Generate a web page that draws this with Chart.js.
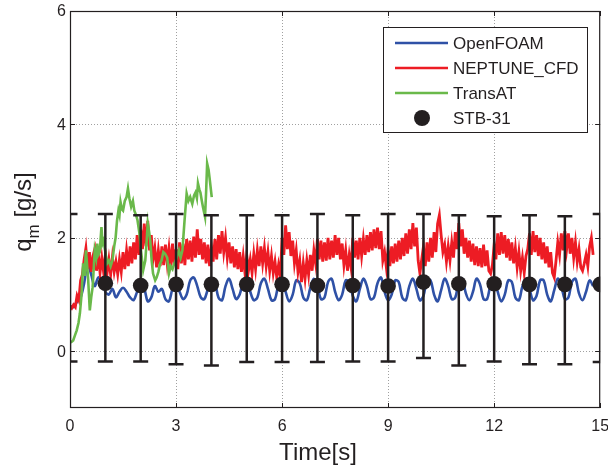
<!DOCTYPE html>
<html><head><meta charset="utf-8">
<script src="https://cdn.jsdelivr.net/npm/chart.js@4.4.1/dist/chart.umd.min.js"></script>
<style>html,body{margin:0;padding:0;background:#fff}#wrap{width:608px;height:468px}</style>
</head><body><div id="wrap"><canvas id="c" width="608" height="468"></canvas></div>
<script>
const xTicks = [0, 3, 6, 9, 12, 15];
const yTicks = [0, 2, 4, 6];
const blueStep = 0.1;  // s, sampling of the OpenFOAM trace
const redStep = 0.05;  // s, sampling of the NEPTUNE_CFD trace

const openFoam = [
 0.80,0.78,0.88,0.95,1.20,1.55,1.35,1.15,1.30,1.25,
 1.05,1.00,1.10,0.95,1.05,1.12,1.05,0.95,0.90,1.05,
 1.15,1.10,0.88,0.95,1.15,1.05,1.10,0.92,0.88,1.10,
 1.20,1.05,0.92,1.00,1.25,1.30,1.15,0.95,0.92,1.10,
 1.25,1.20,0.95,0.90,1.15,1.28,1.10,0.92,1.00,1.22,
 1.25,1.05,0.90,0.95,1.20,1.28,1.10,0.90,0.92,1.18,
 1.25,1.05,0.88,1.00,1.25,1.20,0.95,0.90,1.12,1.28,
 1.15,0.92,0.95,1.22,1.28,1.05,0.90,1.00,1.25,1.22,
 0.98,0.88,1.10,1.28,1.15,0.92,0.95,1.20,1.30,1.05,
 0.90,1.00,1.25,1.22,0.95,0.90,1.15,1.28,1.10,0.90,
 0.98,1.25,1.25,1.00,0.88,1.08,1.28,1.15,0.92,0.95,
 1.22,1.28,1.02,0.90,1.05,1.28,1.18,0.92,0.92,1.18,
 1.28,1.05,0.88,1.00,1.25,1.22,0.95,0.90,1.15,1.28,
 1.10,0.90,0.98,1.25,1.25,1.00,0.88,1.08,1.28,1.15,
 0.92,0.95,1.22,1.28,1.02,0.90,1.05,1.25,1.15
];
const neptune = [
 0.80,0.76,0.82,0.78,0.98,0.90,1.25,1.35,1.62,1.82,1.45,1.75,1.40,1.68,1.80,1.42,1.72,1.38,1.65,1.40,
 1.70,1.38,1.62,1.35,1.66,1.40,1.58,1.36,1.62,1.40,1.75,1.45,1.78,1.50,1.85,1.55,1.92,1.62,2.05,1.70,
 2.15,1.80,2.25,1.85,2.30,1.78,2.05,1.62,1.82,1.48,1.78,1.50,1.85,1.52,1.88,1.55,1.82,1.50,1.90,1.52,
 1.80,1.45,1.92,1.55,1.90,1.52,1.98,1.62,1.95,1.58,2.02,1.65,2.15,1.70,1.98,1.62,1.92,1.55,1.88,1.50,
 1.85,1.58,1.98,1.62,2.05,1.72,2.12,1.75,2.00,1.65,1.92,1.55,1.85,1.48,1.80,1.45,1.75,1.40,1.68,1.38,
 1.70,1.42,1.62,1.38,1.72,1.45,1.78,1.50,1.85,1.55,1.82,1.50,1.75,1.42,1.68,1.38,1.58,1.30,1.52,1.32,
 2.00,1.70,2.22,1.80,2.10,1.68,1.95,1.55,1.78,1.40,1.60,1.22,1.55,1.28,1.60,1.35,1.70,1.42,1.78,1.55,
 1.98,1.62,1.95,1.58,1.92,1.60,2.00,1.62,1.95,1.65,2.05,1.70,2.00,1.62,1.90,1.52,1.78,1.42,1.70,1.48,
 2.00,1.65,1.95,1.62,2.00,1.68,1.98,1.70,2.05,1.75,2.10,1.78,2.15,1.82,2.18,1.80,2.12,1.60,1.75,1.48,
 1.80,1.50,1.85,1.55,1.90,1.58,1.95,1.62,2.00,1.68,2.08,1.72,2.15,1.80,2.26,1.85,2.18,1.60,1.37,1.62,
 1.85,1.50,1.92,1.58,2.00,1.65,2.10,1.75,2.25,2.40,2.05,1.75,1.88,1.58,1.85,1.60,1.92,1.65,2.10,1.80,
 2.26,1.85,2.15,1.72,2.00,1.65,1.95,1.58,1.90,1.52,1.85,1.50,1.82,1.48,1.88,1.50,1.78,1.42,1.37,1.52,
 1.88,1.62,2.08,1.70,2.10,1.72,2.05,1.65,1.98,1.60,1.92,1.55,1.82,1.48,1.75,1.42,1.65,1.38,1.68,1.80,
 2.08,1.70,2.12,1.75,2.05,1.68,2.00,1.62,1.92,1.55,1.85,1.48,1.75,1.38,1.30,1.60,1.92,1.70,2.08,1.78,
 2.12,1.80,2.08,1.72,2.00,1.65,1.92,1.58,1.80,1.48,1.42,1.55,1.70,1.50,1.85,2.00,1.70
];
const transTime = [0.00,0.05,0.09,0.14,0.19,0.24,0.28,0.33,0.37,0.40,0.42,0.45,0.48,0.51,0.56,0.60,0.64,0.67,0.70,0.74,0.77,0.80,0.84,0.89,0.92,0.95,1.00,1.05,1.10,1.15,1.20,1.25,1.29,1.33,1.37,1.40,1.43,1.47,1.50,1.55,1.60,1.64,1.68,1.73,1.78,1.82,1.87,1.91,1.96,2.00,2.07,2.13,2.17,2.20,2.24,2.27,2.31,2.35,2.41,2.45,2.50,2.55,2.59,2.64,2.69,2.75,2.80,2.85,2.90,2.95,2.99,3.04,3.08,3.13,3.18,3.24,3.30,3.35,3.40,3.46,3.51,3.55,3.59,3.62,3.66,3.69,3.73,3.76,3.82,3.85,3.88,3.92,3.95,4.01];
const transVal  = [0.15,0.17,0.19,0.28,0.37,0.50,0.67,1.02,1.55,1.35,1.40,1.78,1.55,1.31,0.72,0.95,1.13,1.45,1.78,1.65,1.90,1.70,1.75,2.19,1.90,1.95,1.75,1.55,1.60,1.50,1.60,1.85,2.00,2.30,2.48,2.40,2.63,2.50,2.48,2.65,2.72,2.87,2.70,2.55,2.65,2.48,2.40,2.31,2.10,1.83,1.43,1.60,1.95,2.26,2.10,1.95,1.60,1.37,1.25,1.30,1.40,1.55,1.60,1.75,1.72,1.65,1.37,1.50,1.45,1.55,1.60,1.70,1.78,1.65,1.78,2.30,2.78,2.65,2.72,2.60,2.75,2.80,2.70,2.96,2.85,2.80,2.65,2.55,2.37,2.80,3.31,3.20,3.05,2.72];

const expTime = [0,1,2,3,4,5,6,7,8,9,10,11,12,13,14,15];
const expMean = [null,1.20,1.16,1.18,1.18,1.18,1.18,1.16,1.16,1.15,1.22,1.19,1.19,1.18,1.18,1.18];
const expHigh = [2.42,2.42,2.40,2.42,2.40,2.40,2.40,2.42,2.40,2.42,2.42,2.40,2.38,2.40,2.38,2.42];
const expLow  = [-0.18,-0.18,-0.18,-0.23,-0.25,-0.19,-0.19,-0.19,-0.18,-0.18,-0.12,-0.25,-0.18,-0.23,-0.23,-0.19];

const FONT = '"Liberation Sans", Arial, sans-serif';
const INK = '#231f20';

function traceData(vals, step){ return vals.map((v,i)=>({x: Math.round(i*step*100)/100, y: v})); }

const decor = {
  id: 'decor',
  beforeDatasetsDraw(chart){
    const {ctx, chartArea:a, scales:{x, y}} = chart;
    ctx.save();
    ctx.strokeStyle = '#a0a0a0'; ctx.lineWidth = 1; ctx.setLineDash([1,2]);
    xTicks.forEach(v=>{ if(v>0 && v<15){ const p = Math.round(x.getPixelForValue(v))+0.5; ctx.beginPath(); ctx.moveTo(p,a.top); ctx.lineTo(p,a.bottom); ctx.stroke(); }});
    yTicks.forEach(v=>{ if(v<6){ const p = Math.round(y.getPixelForValue(v))+0.5; ctx.beginPath(); ctx.moveTo(a.left,p); ctx.lineTo(a.right,p); ctx.stroke(); }});
    ctx.restore();
  },
  beforeDatasetDraw(chart, args){
    if (chart.data.datasets[args.index].label !== 'STB-31') return;
    const {ctx, chartArea:a, scales:{x, y}} = chart;
    ctx.save();
    ctx.beginPath(); ctx.rect(a.left, a.top, a.right-a.left, a.bottom-a.top); ctx.clip();
    ctx.strokeStyle = INK; ctx.lineWidth = 2.5;
    expTime.forEach((t,i)=>{
      const px = x.getPixelForValue(t), yh = y.getPixelForValue(expHigh[i]), yl = y.getPixelForValue(expLow[i]);
      ctx.beginPath();
      ctx.moveTo(px, yh); ctx.lineTo(px, yl);
      ctx.moveTo(px-7.5, yh); ctx.lineTo(px+7.5, yh);
      ctx.moveTo(px-7.5, yl); ctx.lineTo(px+7.5, yl);
      ctx.stroke();
    });
    ctx.restore();
  },
  afterDraw(chart){
    const {ctx, chartArea:a, scales:{x, y}} = chart;
    ctx.save();
    ctx.strokeStyle = INK; ctx.lineWidth = 1.2;
    ctx.strokeRect(a.left+0.5, a.top+0.5, a.right-a.left-1, a.bottom-a.top-1);
    ctx.lineWidth = 1;
    xTicks.forEach(v=>{ const p = Math.round(x.getPixelForValue(v))+0.5;
      ctx.beginPath(); ctx.moveTo(p,a.bottom); ctx.lineTo(p,a.bottom-5); ctx.moveTo(p,a.top); ctx.lineTo(p,a.top+5); ctx.stroke(); });
    yTicks.forEach(v=>{ const p = Math.round(y.getPixelForValue(v))+0.5;
      ctx.beginPath(); ctx.moveTo(a.left,p); ctx.lineTo(a.left+5,p); ctx.moveTo(a.right,p); ctx.lineTo(a.right-5,p); ctx.stroke(); });
    ctx.fillStyle = INK; ctx.font = '16px ' + FONT;
    ctx.textAlign = 'center'; ctx.textBaseline = 'alphabetic';
    xTicks.forEach(v=>{ ctx.fillText(String(v), x.getPixelForValue(v), a.bottom+23); });
    ctx.textAlign = 'right'; ctx.textBaseline = 'middle';
    yTicks.forEach(v=>{ ctx.fillText(String(v), a.left-4, y.getPixelForValue(v)+1); });
    ctx.font = '24px ' + FONT; ctx.textAlign = 'center'; ctx.textBaseline = 'alphabetic';
    ctx.fillText('Time[s]', 318, 460);
    ctx.save();
    ctx.translate(31, 212); ctx.rotate(-Math.PI/2);
    const big = '24px ' + FONT, small = '17px ' + FONT;
    ctx.font = big; const wq = ctx.measureText('q').width; const wr = ctx.measureText(' [g/s]').width;
    ctx.font = small; const wm = ctx.measureText('m').width;
    let sx = -(wq+wm+wr)/2;
    ctx.textAlign = 'left';
    ctx.font = big; ctx.fillText('q', sx, 0); sx += wq;
    ctx.font = small; ctx.fillText('m', sx, 8); sx += wm;
    ctx.font = big; ctx.fillText(' [g/s]', sx, 0);
    ctx.restore();
    const lx = 383.5, ly = 27.5, lw = 204, lh = 105;
    ctx.fillStyle = '#fff'; ctx.fillRect(lx, ly, lw, lh);
    ctx.strokeStyle = INK; ctx.lineWidth = 1; ctx.strokeRect(lx, ly, lw, lh);
    const rows = ['OpenFOAM','NEPTUNE_CFD','TransAT','STB-31'];
    const rowY = [43, 68, 93, 118];
    ctx.font = '17px ' + FONT; ctx.textAlign = 'left'; ctx.textBaseline = 'middle';
    rows.forEach((lab, i)=>{
      const ds = chart.data.datasets.find(d=>d.label===lab);
      if (ds.showLine === false){
        ctx.fillStyle = ds.backgroundColor; ctx.beginPath(); ctx.arc(422, rowY[i], 8, 0, Math.PI*2); ctx.fill();
      } else {
        ctx.strokeStyle = ds.borderColor; ctx.lineWidth = 2.5; ctx.beginPath(); ctx.moveTo(395, rowY[i]); ctx.lineTo(448, rowY[i]); ctx.stroke();
      }
      ctx.fillStyle = INK; ctx.fillText(lab, 453, rowY[i]+1);
    });
    ctx.restore();
  }
};

new Chart(document.getElementById('c'), {
  type: 'line',
  data: { datasets: [
    { label: 'STB-31', data: expTime.map((t,i)=>({x:t, y:expMean[i]})), showLine: false, pointRadius: 7.8, pointHoverRadius: 7.8, backgroundColor: INK, borderColor: INK, pointBorderWidth: 0, order: 0 },
    { label: 'TransAT', data: transTime.map((t,i)=>({x:t, y:transVal[i]})), borderColor: '#6ab94a', borderWidth: 2.6, pointRadius: 0, tension: 0, order: 1 },
    { label: 'NEPTUNE_CFD', data: traceData(neptune, redStep), borderColor: '#ed1c24', borderWidth: 2.8, pointRadius: 0, tension: 0, order: 2 },
    { label: 'OpenFOAM', data: traceData(openFoam, blueStep), borderColor: '#2f51a6', borderWidth: 2.6, pointRadius: 0, tension: 0.35, order: 3 }
  ]},
  options: {
    responsive: false, animation: false, devicePixelRatio: 1,
    layout: { padding: { top: 11, right: 3, left: 0, bottom: 0 } },
    plugins: { legend: { display: false }, tooltip: { enabled: false } },
    scales: {
      x: { type: 'linear', min: 0, max: 15,
        afterBuildTicks: s => { s.ticks = xTicks.map(v=>({value:v})); },
        afterFit: s => { s.height = 60; },
        ticks: { display: false }, grid: { display: false }, border: { display: false } },
      y: { type: 'linear', min: -1, max: 6,
        afterBuildTicks: s => { s.ticks = yTicks.map(v=>({value:v})); },
        afterFit: s => { s.width = 70; },
        ticks: { display: false }, grid: { display: false }, border: { display: false } }
    }
  },
  plugins: [decor]
});
</script></body></html>
